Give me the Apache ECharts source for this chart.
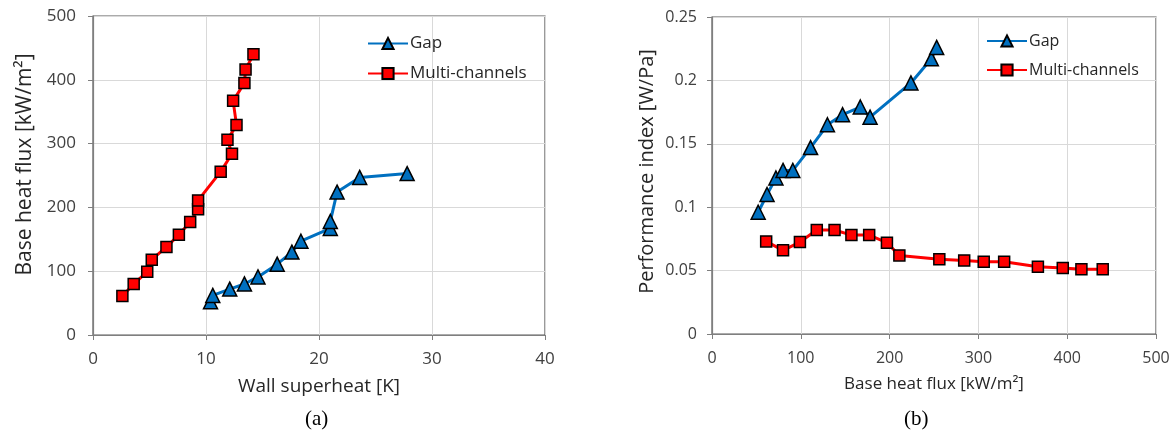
<!DOCTYPE html>
<html>
<head>
<meta charset="utf-8">
<script src="https://cdn.jsdelivr.net/npm/echarts@6/dist/echarts.min.js"></script>
<style>
html,body{margin:0;padding:0;background:#fff;}
#chart{width:1176px;height:436px;}
</style>
</head>
<body>
<div id="chart"></div>
<script>
// ---- data ----
const seriesNames = ['Gap', 'Multi-channels'];
// Gap
const gapSuperheat = [10.4, 10.6, 12.1, 13.4, 14.6, 16.3, 17.6, 18.4, 21.0, 21.0, 21.6, 23.6, 27.8];
const gapFlux = [52, 62, 72, 80, 91, 111, 130, 147, 167, 178, 224, 247, 253];
const gapPI = [0.096, 0.110, 0.123, 0.129, 0.129, 0.147, 0.165, 0.173, 0.179, 0.171, 0.198, 0.217, 0.226];
// Multi-channels
const mcSuperheat = [2.6, 3.6, 4.8, 5.2, 6.5, 7.6, 8.6, 9.3, 9.3, 11.3, 12.3, 11.9, 12.7, 12.4, 13.4, 13.5, 14.2];
const mcFlux = [61, 80, 99, 118, 138, 157, 177, 197, 211, 256, 284, 306, 329, 367, 395, 416, 440];
const mcPI = [0.073, 0.066, 0.0725, 0.082, 0.082, 0.078, 0.078, 0.072, 0.062, 0.059, 0.058, 0.057, 0.057, 0.053, 0.052, 0.051, 0.051];
// axes
const leftXTitle = 'Wall superheat [K]';
const leftYTitle = 'Base heat flux [kW/m\u00B2]';
const rightXTitle = 'Base heat flux [kW/m\u00B2]';
const rightYTitle = 'Performance index [W/Pa]';
const panelLabels = ['(a)', '(b)'];

const zip = (a, b) => a.map((v, i) => [v, b[i]]);

const BLUE = '#0070C0', RED = '#FF0000';
const FONT = '"Open Sans", Lato, sans-serif';
const axisLine = {show: true, lineStyle: {color: '#7f7f7f', width: 1.2}};
const axisTick = {show: true, length: 5, lineStyle: {color: '#7f7f7f'}};
const splitLine = {show: true, lineStyle: {color: '#d9d9d9', width: 1}};

function ax(grid, max, interval, name, gap, labelSize, nameSize, margin, namePad) {
  return {type: 'value', gridIndex: grid, min: 0, max: max, interval: interval,
    name: name, nameLocation: 'middle', nameGap: gap,
    nameTextStyle: {color: '#262626', fontSize: nameSize, fontFamily: FONT, padding: namePad || 0},
    axisLine: axisLine, axisTick: axisTick, splitLine: splitLine,
    axisLabel: {margin: margin, color: '#404040', fontSize: labelSize, fontFamily: FONT}};
}
function ser(name, data, xi, color, symbol, size) {
  return {type: 'line', name: name, xAxisIndex: xi, yAxisIndex: xi, data: data,
    symbol: symbol, symbolSize: size,
    lineStyle: {color: color, width: 3},
    itemStyle: {color: color, borderColor: '#000', borderWidth: 1.5},
    emphasis: {disabled: true}, z: symbol === 'triangle' ? 3 : 2};
}

const chart = echarts.init(document.getElementById('chart'), null, {renderer: 'canvas'});
chart.setOption({
  animation: false,
  backgroundColor: '#fff',
  grid: [
    {left: 93, top: 16, width: 452, height: 319, show: true, borderColor: '#595959', borderWidth: 1.2, backgroundColor: 'transparent'},
    {left: 712, top: 17, width: 444, height: 317, show: true, borderColor: '#595959', borderWidth: 1.2, backgroundColor: 'transparent'}
  ],
  xAxis: [ax(0, 40, 10, leftXTitle, 42, 17, 19, 16), ax(1, 500, 100, rightXTitle, 42, 16, 17, 16)],
  yAxis: [ax(0, 500, 100, leftYTitle, 57, 17, 21, 17, [0, 0, 0, 22]), ax(1, 0.25, 0.05, rightYTitle, 55, 16, 20, 15, [0, 0, 0, 8])],
  legend: [
    {data: seriesNames, orient: 'vertical', left: 362, top: 30, itemWidth: 40, itemHeight: 14, itemGap: 13,
      textStyle: {color: '#262626', fontSize: 17, fontFamily: FONT, padding: [0,0,0,-3]}},
    {data: seriesNames, orient: 'vertical', left: 981, top: 28, itemWidth: 40, itemHeight: 14, itemGap: 13,
      textStyle: {color: '#262626', fontSize: 16, fontFamily: FONT, padding: [0,0,0,-3]}}
  ],
  graphic: [
    {type: 'text', left: 305, top: 409, style: {text: panelLabels[0], font: '21px "Liberation Serif", serif', fill: '#000'}},
    {type: 'text', left: 904, top: 409, style: {text: panelLabels[1], font: '21px "Liberation Serif", serif', fill: '#000'}}
  ],
  series: [
    ser(seriesNames[0], zip(gapSuperheat, gapFlux), 0, BLUE, 'triangle', 14),
    ser(seriesNames[1], zip(mcSuperheat, mcFlux), 0, RED, 'rect', 11),
    ser(seriesNames[0], zip(gapFlux, gapPI), 1, BLUE, 'triangle', 14),
    ser(seriesNames[1], zip(mcFlux, mcPI), 1, RED, 'rect', 11)
  ]
});
</script>
</body>
</html>
